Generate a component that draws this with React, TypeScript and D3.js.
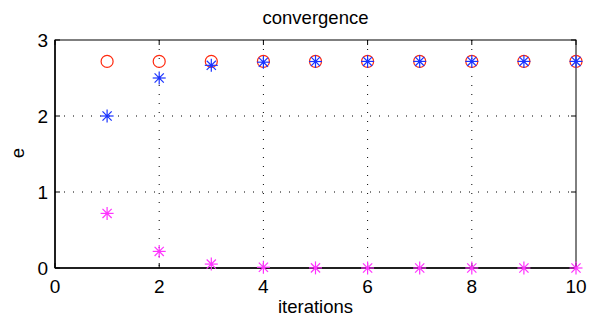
import React from "react";
import * as d3 from "d3";

// iteration index
const iterations = [1, 2, 3, 4, 5, 6, 7, 8, 9, 10];
// reference value e
const exactValues = [2.71828, 2.71828, 2.71828, 2.71828, 2.71828, 2.71828, 2.71828, 2.71828, 2.71828, 2.71828];
// partial sums of 1/k!
const approxValues = [2.0, 2.5, 2.6667, 2.7083, 2.7167, 2.7181, 2.7183, 2.7183, 2.7183, 2.7183];
// error e - approximation
const errorValues = [0.7183, 0.2183, 0.0516, 0.0099, 0.0016, 0.0002, 0.00003, 0.0, 0.0, 0.0];

const xTicks = [0, 2, 4, 6, 8, 10];
const yTicks = [0, 1, 2, 3];

const width = 590;
const height = 318;
const margin = { top: 40, right: 14, bottom: 50, left: 55 };

const font = "'Liberation Sans', Arial, Helvetica, sans-serif";

const Asterisk: React.FC<{ x: number; y: number; color: string; r: number }> = ({ x, y, color, r }) => {
  const d = r * 0.7071;
  return (
    <g stroke={color} strokeWidth={1.2}>
      <line x1={x - r} y1={y} x2={x + r} y2={y} />
      <line x1={x} y1={y - r} x2={x} y2={y + r} />
      <line x1={x - d} y1={y - d} x2={x + d} y2={y + d} />
      <line x1={x - d} y1={y + d} x2={x + d} y2={y - d} />
      <circle cx={x} cy={y} r={1.6} fill={color} stroke="none" />
    </g>
  );
};

const App: React.FC = () => {
  const innerW = width - margin.left - margin.right;
  const innerH = height - margin.top - margin.bottom;

  const x = d3.scaleLinear().domain([0, 10]).range([0, innerW]);
  const y = d3.scaleLinear().domain([0, 3]).range([innerH, 0]);

  return (
    <div style={{ position: "absolute", left: 0, top: 0 }}>
      <svg width={width} height={height} style={{ display: "block", background: "#fff" }}>
        <g transform={`translate(${margin.left},${margin.top})`}>
          {/* grid */}
          {xTicks.slice(1, -1).map((t) => (
            <line key={"gx" + t} x1={x(t)} x2={x(t)} y1={0} y2={innerH} stroke="#000" strokeWidth={1} strokeDasharray="1 8" />
          ))}
          {yTicks.slice(1, -1).map((t) => (
            <line key={"gy" + t} x1={0} x2={innerW} y1={y(t)} y2={y(t)} stroke="#000" strokeWidth={1} strokeDasharray="1 8" />
          ))}

          {/* box */}
          <rect x={0} y={0} width={innerW} height={innerH} fill="none" stroke="#000" strokeWidth={1} />
          <line x1={0} x2={innerW} y1={innerH} y2={innerH} stroke="#000" strokeWidth={1.5} />
          <line x1={0} x2={0} y1={0} y2={innerH} stroke="#000" strokeWidth={1.5} />

          {/* ticks */}
          {xTicks.map((t) => (
            <g key={"tx" + t}>
              <line x1={x(t)} x2={x(t)} y1={innerH} y2={innerH - 5} stroke="#000" />
              <line x1={x(t)} x2={x(t)} y1={0} y2={5} stroke="#000" />
              <text x={x(t)} y={innerH + 25} textAnchor="middle" fontFamily={font} fontSize={19} fill="#000">
                {t}
              </text>
            </g>
          ))}
          {yTicks.map((t) => (
            <g key={"ty" + t}>
              <line x1={0} x2={5} y1={y(t)} y2={y(t)} stroke="#000" />
              <line x1={innerW} x2={innerW - 5} y1={y(t)} y2={y(t)} stroke="#000" />
              <text x={-7} y={y(t) + 7} textAnchor="end" fontFamily={font} fontSize={19} fill="#000">
                {t}
              </text>
            </g>
          ))}

          {/* series */}
          {iterations.map((it, i) => (
            <circle key={"c" + it} cx={x(it)} cy={y(exactValues[i])} r={6} fill="none" stroke="#ff2a0f" strokeWidth={1.2} />
          ))}
          {iterations.map((it, i) => (
            <Asterisk key={"a" + it} x={x(it)} y={y(approxValues[i])} color="#1a33ff" r={6.5} />
          ))}
          {iterations.map((it, i) => (
            <Asterisk key={"e" + it} x={x(it)} y={y(errorValues[i])} color="#ff33ff" r={6.5} />
          ))}
        </g>

        {/* labels */}
        <text x={margin.left + innerW / 2} y={24} textAnchor="middle" fontFamily={font} fontSize={18.5} fill="#000">
          convergence
        </text>
        <text x={margin.left + innerW / 2} y={313} textAnchor="middle" fontFamily={font} fontSize={18.5} fill="#000">
          iterations
        </text>
        <text
          transform={`translate(24,${margin.top + innerH / 2 - 1}) rotate(-90)`}
          textAnchor="middle"
          fontFamily={font}
          fontSize={18.5}
          fill="#000"
        >
          e
        </text>
      </svg>
    </div>
  );
};

export default App;
